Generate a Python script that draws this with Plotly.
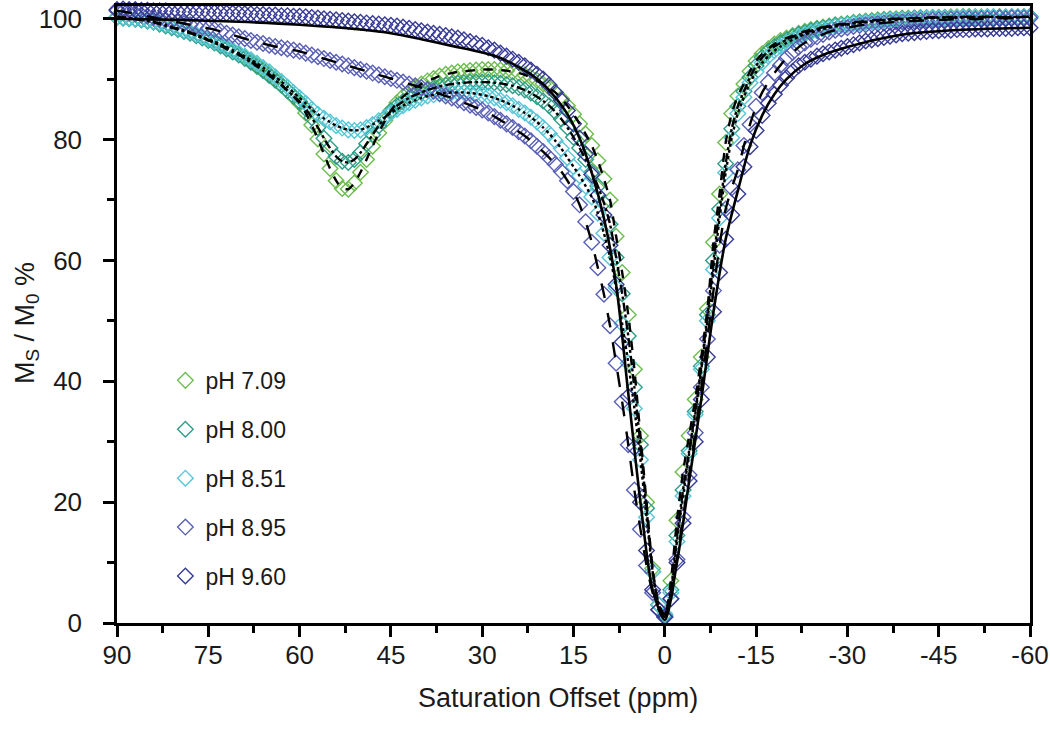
import plotly.graph_objects as go

# Saturation offsets (ppm), sampled every 1 ppm from 90 to -60
OFFSETS = [90, 89, 88, 87, 86, 85, 84, 83, 82, 81,
           80, 79, 78, 77, 76, 75, 74, 73, 72, 71,
           70, 69, 68, 67, 66, 65, 64, 63, 62, 61,
           60, 59, 58, 57, 56, 55, 54, 53, 52, 51,
           50, 49, 48, 47, 46, 45, 44, 43, 42, 41,
           40, 39, 38, 37, 36, 35, 34, 33, 32, 31,
           30, 29, 28, 27, 26, 25, 24, 23, 22, 21,
           20, 19, 18, 17, 16, 15, 14, 13, 12, 11,
           10, 9, 8, 7, 6, 5, 4, 3, 2, 1,
           0, -1, -2, -3, -4, -5, -6, -7, -8, -9,
           -10, -11, -12, -13, -14, -15, -16, -17, -18, -19,
           -20, -21, -22, -23, -24, -25, -26, -27, -28, -29,
           -30, -31, -32, -33, -34, -35, -36, -37, -38, -39,
           -40, -41, -42, -43, -44, -45, -46, -47, -48, -49,
           -50, -51, -52, -53, -54, -55, -56, -57, -58, -59,
           -60]

PH_709 = [100.3, 100.2, 100.1, 100.0, 99.9, 99.7, 99.5, 99.2, 98.9, 98.6,
          98.3, 98.0, 97.7, 97.3, 96.9, 96.5, 96.1, 95.7, 95.2, 94.7,
          94.2, 93.6, 93.0, 92.3, 91.6, 90.8, 90.0, 89.1, 88.1, 87.1,
          86.0, 84.4, 82.4, 80.1, 77.6, 75.2, 73.2, 71.9, 71.8, 72.8,
          74.6, 76.7, 78.9, 81.1, 83.1, 84.8, 86.1, 87.1, 87.9, 88.6,
          89.2, 89.7, 90.1, 90.5, 90.8, 91.0, 91.2, 91.3, 91.4, 91.5,
          91.6, 91.6, 91.6, 91.5, 91.4, 91.2, 91.0, 90.7, 90.3, 89.8,
          89.2, 88.6, 87.8, 86.8, 85.6, 84.2, 82.6, 80.9, 79.0, 76.5,
          73.5, 70.0, 64.0, 58.0, 51.0, 42.0, 31.0, 20.0, 9.0, 3.0,
          1.0, 7.0, 17.0, 25.0, 31.0, 37.0, 44.0, 52.0, 63.0, 71.0,
          79.5, 84.3, 87.2, 89.2, 91.3, 93.0, 94.2, 95.0, 95.8, 96.4,
          96.8, 97.2, 97.6, 97.9, 98.2, 98.4, 98.6, 98.8, 99.0, 99.1,
          99.2, 99.4, 99.5, 99.6, 99.7, 99.8, 99.9, 100.0, 100.0, 100.1,
          100.1, 100.1, 100.2, 100.2, 100.2, 100.2, 100.2, 100.3, 100.3, 100.3,
          100.3, 100.2, 100.3, 100.3, 100.2, 100.3, 100.3, 100.3, 100.2, 100.3,
          100.3]

PH_800 = [100.2, 100.1, 100.0, 99.9, 99.8, 99.6, 99.4, 99.1, 98.8, 98.5,
          98.2, 97.9, 97.6, 97.2, 96.8, 96.4, 96.0, 95.5, 95.0, 94.5,
          94.0, 93.4, 92.8, 92.1, 91.4, 90.6, 89.8, 89.0, 88.1, 87.2,
          86.3, 85.1, 83.6, 82.0, 80.2, 78.6, 77.2, 76.4, 76.2, 76.7,
          77.8, 79.3, 80.8, 82.3, 83.6, 84.7, 85.6, 86.3, 86.9, 87.4,
          87.8, 88.2, 88.5, 88.8, 89.0, 89.2, 89.3, 89.4, 89.5, 89.5,
          89.5, 89.5, 89.4, 89.3, 89.1, 88.9, 88.6, 88.2, 87.7, 87.1,
          86.4, 85.6, 84.6, 83.4, 82.0, 80.4, 78.6, 76.7, 74.6, 72.3,
          69.5, 66.0, 60.5, 54.5, 47.5, 39.0, 29.5, 19.0, 8.5, 3.0,
          1.3, 5.5, 14.5, 22.0, 28.5, 35.0, 42.5, 51.0, 60.0, 68.5,
          76.0, 81.8, 85.5, 88.0, 90.3, 92.2, 93.6, 94.6, 95.4, 96.0,
          96.5, 97.0, 97.4, 97.7, 98.0, 98.3, 98.5, 98.7, 98.9, 99.0,
          99.1, 99.3, 99.4, 99.5, 99.6, 99.7, 99.8, 99.9, 99.9, 100.0,
          100.0, 100.1, 100.1, 100.1, 100.2, 100.2, 100.2, 100.2, 100.2, 100.3,
          100.3, 100.3, 100.2, 100.3, 100.3, 100.3, 100.2, 100.3, 100.3, 100.3,
          100.4]

PH_851 = [100.3, 100.2, 100.1, 100.0, 99.9, 99.7, 99.5, 99.3, 99.0, 98.7,
          98.4, 98.1, 97.8, 97.4, 97.0, 96.6, 96.2, 95.8, 95.3, 94.8,
          94.3, 93.8, 93.2, 92.6, 91.9, 91.2, 90.4, 89.6, 88.7, 87.8,
          86.9, 86.0, 85.0, 84.2, 83.5, 82.9, 82.3, 81.9, 81.6, 81.5,
          81.6, 82.0, 82.5, 83.1, 83.7, 84.4, 85.0, 85.6, 86.1, 86.5,
          86.9, 87.2, 87.4, 87.6, 87.7, 87.8, 87.8, 87.8, 87.7, 87.6,
          87.4, 87.2, 86.9, 86.5, 86.1, 85.6, 85.0, 84.4, 83.7, 82.9,
          82.0, 81.0, 79.8, 78.5, 77.0, 75.5, 74.0, 72.3, 70.5, 67.8,
          64.5, 60.5, 55.5, 49.5, 43.0, 35.5, 27.0, 17.5, 8.5, 3.0,
          1.5, 5.0, 13.5, 21.0, 28.0, 34.5, 42.0, 50.0, 58.5, 67.0,
          74.5, 80.3, 84.3, 87.0, 89.4, 91.2, 92.7, 93.8, 94.7, 95.4,
          96.0, 96.5, 97.0, 97.4, 97.7, 98.0, 98.3, 98.5, 98.7, 98.9,
          99.0, 99.2, 99.3, 99.4, 99.5, 99.6, 99.7, 99.8, 99.8, 99.9,
          99.9, 100.0, 100.0, 100.1, 100.1, 100.1, 100.2, 100.2, 100.2, 100.2,
          100.2, 100.3, 100.2, 100.3, 100.3, 100.2, 100.3, 100.3, 100.3, 100.3,
          100.3]

PH_895 = [101.3, 101.2, 101.0, 100.8, 100.6, 100.4, 100.2, 100.0, 99.8, 99.6,
          99.4, 99.2, 99.0, 98.8, 98.6, 98.4, 98.2, 97.9, 97.6, 97.3,
          97.0, 96.7, 96.4, 96.1, 95.9, 95.6, 95.4, 95.2, 95.0, 94.8,
          94.6, 94.3, 94.0, 93.7, 93.4, 93.1, 92.8, 92.5, 92.2, 91.9,
          91.6, 91.3, 91.0, 90.7, 90.4, 90.1, 89.8, 89.5, 89.2, 88.9,
          88.6, 88.3, 88.0, 87.6, 87.2, 86.9, 86.5, 86.1, 85.7, 85.3,
          84.9, 84.4, 83.8, 83.2, 82.6, 82.0, 81.3, 80.6, 79.8, 78.9,
          78.0, 77.0, 75.9, 74.7, 73.2, 71.4, 69.2, 66.4, 63.0, 58.8,
          54.4, 49.2, 43.0, 36.6, 29.5, 22.0, 15.5, 9.5, 5.0, 2.2,
          1.0, 4.0, 10.5, 17.5, 24.5, 31.5, 39.0, 47.0, 55.0, 62.5,
          68.5, 72.0, 75.0, 79.0, 82.5, 85.5, 87.8, 89.5, 91.0, 92.3,
          93.5, 94.4, 95.3, 96.0, 96.6, 97.0, 97.4, 97.8, 98.1, 98.3,
          98.5, 98.7, 98.9, 99.0, 99.1, 99.2, 99.3, 99.4, 99.5, 99.5,
          99.6, 99.6, 99.7, 99.7, 99.8, 99.8, 99.8, 99.9, 99.9, 99.9,
          100.0, 99.9, 100.0, 100.0, 100.0, 100.1, 100.0, 100.1, 100.1, 100.1,
          100.1]

PH_960 = [101.5, 101.6, 101.5, 101.5, 101.4, 101.4, 101.3, 101.3, 101.3, 101.2,
          101.2, 101.2, 101.1, 101.1, 101.1, 101.0, 101.0, 101.0, 100.9, 100.9,
          100.9, 100.8, 100.8, 100.7, 100.7, 100.6, 100.6, 100.5, 100.5, 100.4,
          100.4, 100.3, 100.2, 100.1, 100.0, 99.9, 99.8, 99.7, 99.6, 99.5,
          99.4, 99.3, 99.2, 99.1, 99.0, 98.9, 98.8, 98.6, 98.4, 98.2,
          98.0, 97.8, 97.6, 97.4, 97.2, 97.0, 96.8, 96.5, 96.2, 95.9,
          95.6, 95.2, 94.8, 94.3, 93.8, 93.3, 92.8, 92.2, 91.5, 90.8,
          90.0, 89.0, 87.8, 86.5, 84.8, 82.6, 80.2, 77.6, 74.2, 70.8,
          67.5, 62.5, 56.0, 46.5, 37.5, 29.0, 20.0, 12.0, 5.5, 2.2,
          1.0, 4.0, 10.0, 16.5, 23.5, 30.0, 37.0, 44.0, 51.5, 58.0,
          63.5, 67.5, 71.0, 75.5, 78.8, 81.5, 84.0, 86.0, 87.5, 89.0,
          90.2, 91.3, 92.2, 92.8, 93.3, 93.8, 94.2, 94.5, 94.8, 95.1,
          95.4, 95.7, 96.0, 96.3, 96.5, 96.7, 96.9, 97.1, 97.3, 97.5,
          97.6, 97.7, 97.8, 97.9, 98.0, 98.0, 98.1, 98.1, 98.2, 98.2,
          98.2, 98.3, 98.3, 98.3, 98.4, 98.4, 98.4, 98.4, 98.5, 98.5,
          98.5]

# Model fit for pH 9.60 (drawn as a solid black curve)
FIT_960_X = [90, 80, 70, 60, 50, 45, 40, 35, 30, 27, 24, 22, 20, 18, 16, 14, 12, 10, 8, 6,
             4, 2, 0, -2, -4, -6, -8, -10, -12, -14, -16, -18, -20, -23, -26, -30, -35,
             -40, -50, -60]
FIT_960_Y = [100.0, 99.8, 99.5, 99.0, 98.2, 97.6, 96.6, 95.5, 94.4, 93.5, 92.0, 90.8, 89.2,
             87.0, 84.2, 80.2, 74.5, 67.0, 56.0, 38.0, 20.0, 5.5, 0.5, 10.0, 23.5, 37.0, 51.5,
             63.5, 71.5, 79.0, 84.0, 87.5, 90.0, 92.5, 94.0, 95.3, 96.6, 97.5, 98.2, 98.5]

LABELS = ["pH 7.09", "pH 8.00", "pH 8.51", "pH 8.95", "pH 9.60"]
SERIES = [PH_709, PH_800, PH_851, PH_895, PH_960]
COLORS = ["#6dbd4e", "#2f9e88", "#56c6d8", "#5a60b6", "#383c96"]
FIT_DASH = ["dash", "dashdot", "dot", "longdash", None]

XTICKS = [90, 75, 60, 45, 30, 15, 0, -15, -30, -45, -60]
XTICKTEXT = ["90", "75", "60", "45", "30", "15", "0", "-15", "-30", "-45", "-60"]
YTICKS = [0, 20, 40, 60, 80, 100]
X_TITLE = "Saturation Offset (ppm)"
Y_TITLE = "M<sub>S</sub> / M<sub>0</sub> %"

for n in SERIES:
    assert len(n) == len(OFFSETS), len(n)

fig = go.Figure()

for i, (lab, ys, col) in enumerate(zip(LABELS, SERIES, COLORS)):
    fig.add_trace(go.Scatter(
        x=OFFSETS, y=ys, mode="markers", name=lab, legendgroup=str(i),
        marker=dict(symbol="diamond-open", size=12, color=col, line=dict(width=1.4, color=col)),
        cliponaxis=False,
    ))

for i, (ys, dash) in enumerate(zip(SERIES, FIT_DASH)):
    if dash is None:
        continue
    fig.add_trace(go.Scatter(
        x=OFFSETS, y=ys, mode="lines", showlegend=False, hoverinfo="skip",
        line=dict(color="black", width=2.4, dash=dash, shape="spline", smoothing=0.6),
    ))

fig.add_trace(go.Scatter(
    x=FIT_960_X, y=FIT_960_Y, mode="lines", showlegend=False, hoverinfo="skip",
    line=dict(color="black", width=2.6, shape="spline", smoothing=0.8),
))

axis_common = dict(
    showline=True, linewidth=2.5, linecolor="black", mirror=True,
    ticks="outside", ticklen=11, tickwidth=2.5, tickcolor="black",
    showgrid=False, zeroline=False, automargin=False,
    ticklabeloverflow="allow",
    tickfont=dict(size=26, color="#1a1a1a"),
)

fig.update_xaxes(
    range=[90, -60], tickmode="array", tickvals=XTICKS, ticktext=XTICKTEXT,
    minor=dict(ticks="outside", ticklen=7, tickwidth=2.5, tickcolor="black",
               tickmode="linear", tick0=0, dtick=7.5),
    ticklabelstandoff=-4,
    **axis_common,
)
fig.update_yaxes(
    range=[0, 102.1], tickmode="array", tickvals=YTICKS,
    minor=dict(ticks="outside", ticklen=7, tickwidth=2.5, tickcolor="black",
               tickmode="linear", tick0=0, dtick=10),
    ticklabelstandoff=16,
    **axis_common,
)

fig.add_annotation(text=X_TITLE, xref="paper", yref="paper", x=0.483, y=-0.1216,
                   xanchor="center", yanchor="middle", showarrow=False,
                   font=dict(size=27, color="#1a1a1a"))
fig.add_annotation(text=Y_TITLE, xref="paper", yref="paper", x=-0.0986, y=0.486,
                   xanchor="center", yanchor="middle", showarrow=False, textangle=-90,
                   font=dict(size=27, color="#1a1a1a"))

fig.update_layout(
    width=1050, height=735,
    margin=dict(l=117, r=20, t=6, b=112),
    plot_bgcolor="white", paper_bgcolor="white",
    hovermode=False,
    font=dict(family="Liberation Sans, Arial, sans-serif", color="#1a1a1a"),
    legend=dict(x=0.053, y=0.428, xanchor="left", yanchor="top",
                bgcolor="rgba(0,0,0,0)", font=dict(size=23, color="#1a1a1a"),
                tracegroupgap=16, traceorder="grouped"),
)

fig.write_html("out.html", config={"displayModeBar": False},
               post_script="document.body.style.margin='0';")
